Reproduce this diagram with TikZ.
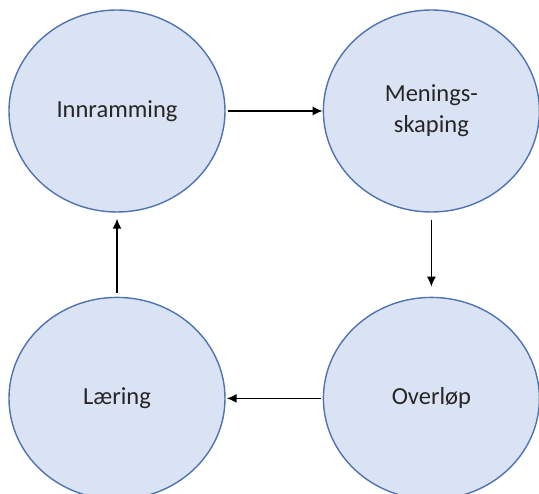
\documentclass[tikz,border=0pt]{standalone}
\usepackage{fontspec}
\setmainfont{Carlito}
\usetikzlibrary{shapes.geometric, arrows.meta, positioning}
\definecolor{cyFill}{HTML}{DAE3F3}
\definecolor{cyEdge}{HTML}{4F73B0}
\definecolor{cyText}{HTML}{262626}
\tikzset{
  phase/.style={ellipse, draw=cyEdge, line width=1.4pt, fill=cyFill,
    minimum width=216pt, minimum height=202pt, inner sep=0pt,
    align=center, text=cyText, font=\fontsize{24.5}{31}\selectfont},
  cyarrow/.style={-{Latex[length=10pt, width=9pt]}, line width=1.5pt, black}
}
\begin{document}
\begin{tikzpicture}[x=1pt, y=1pt]
  \useasboundingbox (0,0) rectangle (539,-494);
  \node[phase] (innr) at (117,-111) {Innramming};
  \node[phase, right=97pt of innr] (mening) {Menings-\\skaping};
  \node[phase, below=84pt of innr] (laering) {Læring};
  \node[phase, below=84pt of mening] (overlop) {Overløp};
  \draw[cyarrow, shorten <=2pt] (innr) -- (mening);
  \draw[cyarrow, shorten <=7pt, shorten >=10pt] (mening) -- (overlop);
  \draw[cyarrow, shorten <=2pt, shorten >=1pt] (overlop) -- (laering);
  \draw[cyarrow, shorten <=4pt, shorten >=6pt] (laering) -- (innr);
\end{tikzpicture}
\end{document}
